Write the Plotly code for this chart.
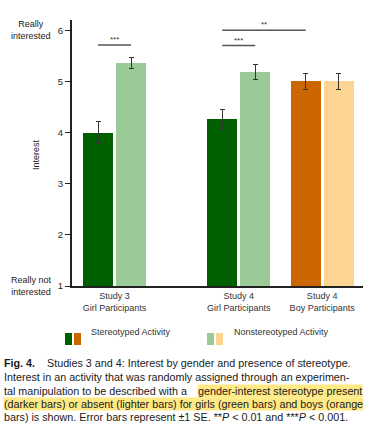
import plotly.graph_objects as go

# ---- data ----
groups = ["Study 3<br>Girl Participants", "Study 4<br>Girl Participants", "Study 4<br>Boy Participants"]
stereotyped = [4.00, 4.26, 5.00]
stereotyped_se = [0.22, 0.20, 0.15]
nonstereotyped = [5.36, 5.18, 5.00]
nonstereotyped_se = [0.10, 0.15, 0.15]
dark_colors = ["#006000", "#006000", "#CC6600"]
light_colors = ["#9ACA96", "#9ACA96", "#FDD492"]
# significance brackets: (group_from, series_from, group_to, series_to, y, label)
sig_brackets = [(0, 0, 0, 1, 5.71, "***"), (1, 0, 1, 1, 5.70, "***"), (1, 0, 2, 0, 6.00, "**")]
y_ticks = [1, 2, 3, 4, 5, 6]

# ---- layout constants ----
W, H = 377, 425
L, R, T, B = 72, 14, 20, 139
group_pos = [0, 1.49, 2.49]
offset = 0.198
bw = 0.36
xr = [-0.51, 2.98]
yr = [1, 6.2]

def pxx(px):
    return (px - L) / (W - L - R)

def pxy(py):
    return (H - B - py) / (H - T - B)

fig = go.Figure()
fig.add_trace(go.Bar(
    x=[g - offset for g in group_pos], y=stereotyped, width=bw,
    marker=dict(color=dark_colors, line=dict(width=0)),
    error_y=dict(type="data", array=stereotyped_se, color="#333", thickness=1, width=2.5),
    showlegend=False, base=0))
fig.add_trace(go.Bar(
    x=[g + offset for g in group_pos], y=nonstereotyped, width=bw,
    marker=dict(color=light_colors, line=dict(width=0)),
    error_y=dict(type="data", array=nonstereotyped_se, color="#333", thickness=1, width=2.5),
    showlegend=False, base=0))

shapes = []
annotations = []
for g0, s0, g1, s1, yv, lab in sig_brackets:
    x0 = group_pos[g0] + (offset if s0 else -offset)
    x1 = group_pos[g1] + (offset if s1 else -offset)
    shapes.append(dict(type="line", xref="x", yref="y", x0=x0, x1=x1, y0=yv, y1=yv,
                       line=dict(color="#555", width=1.5)))
    annotations.append(dict(x=(x0 + x1) / 2, y=yv, xref="x", yref="y", text=lab, showarrow=False,
                            yanchor="bottom", font=dict(size=8, color="#333"), yshift=-1))

# y-axis end labels
annotations.append(dict(x=pxx(31), y=6, xref="paper", yref="y", text="Really<br>interested",
                        showarrow=False, font=dict(size=9, color="#222"), xanchor="center"))
annotations.append(dict(x=pxx(31), y=1, xref="paper", yref="y", text="Really not<br>interested",
                        showarrow=False, font=dict(size=9, color="#222"), xanchor="center"))
annotations.append(dict(x=pxx(36), y=pxy(155), xref="paper", yref="paper", text="Interest",
                        textangle=-90, showarrow=False, xanchor="center", yanchor="middle",
                        font=dict(size=9, color="#222")))

# legend (custom)
for x0, col in [(65, dark_colors[0]), (74, dark_colors[2]), (207, light_colors[0]), (216, light_colors[2])]:
    shapes.append(dict(type="rect", xref="paper", yref="paper", x0=pxx(x0), x1=pxx(x0 + 7),
                       y0=pxy(345), y1=pxy(333), fillcolor=col, line=dict(width=0)))
annotations.append(dict(x=pxx(89), y=pxy(339), xref="paper", yref="paper", text="Stereotyped Activity",
                        showarrow=False, xanchor="left", font=dict(size=9, color="#333")))
annotations.append(dict(x=pxx(232), y=pxy(339), xref="paper", yref="paper", text="Nonstereotyped Activity",
                        showarrow=False, xanchor="left", font=dict(size=9, color="#333")))

# caption
cap_font = dict(size=10.75, color="#1a1a1a", family="Liberation Sans, Arial, sans-serif")
hl = "#FFE985"
cap_lines = [
    (363, "<b>Fig. 4.</b>    Studies 3 and 4: Interest by gender and presence of stereotype.", None),
    (377, "Interest in an activity that was randomly assigned through an experimen-", None),
    (391, "tal manipulation to be described with a ", None),
    (404, "(darker bars) or absent (lighter bars) for girls (green bars) and boys (orange", hl),
    (417, "bars) is shown. Error bars represent \u00b11 SE. **<i>P</i> < 0.01 and ***<i>P</i> < 0.001.", None),
]
for py, txt, bg in cap_lines:
    a = dict(x=pxx(3), y=pxy(py), xref="paper", yref="paper", text=txt, showarrow=False,
             xanchor="left", yanchor="middle", font=cap_font, borderpad=0)
    if bg:
        a["bgcolor"] = bg
    annotations.append(a)
annotations.append(dict(x=pxx(363), y=pxy(391), xref="paper", yref="paper",
                        text="gender-interest stereotype present", showarrow=False,
                        xanchor="right", yanchor="middle", font=cap_font, bgcolor=hl, borderpad=0))

fig.update_layout(
    width=W, height=H, margin=dict(l=L, r=R, t=T, b=B),
    paper_bgcolor="white", plot_bgcolor="white",
    font=dict(family="Liberation Sans, Arial, sans-serif", color="#222"),
    barmode="overlay", bargap=0,
    xaxis=dict(range=xr, tickvals=group_pos, ticktext=groups, showgrid=False, zeroline=False,
               showline=True, linecolor="#222", linewidth=2, ticks="", tickfont=dict(size=9, color="#333"),
               fixedrange=True),
    yaxis=dict(range=yr, tickvals=y_ticks, showgrid=False, zeroline=False, showline=True,
               linecolor="#222", linewidth=2, ticks="outside", ticklen=5, tickcolor="#222",
               tickfont=dict(size=9.5, color="#222"), fixedrange=True),
    shapes=shapes, annotations=annotations,
)
fig.write_html("out.html", config={"displayModeBar": False},
               post_script="document.body.style.margin='0';document.body.style.overflow='hidden';")
